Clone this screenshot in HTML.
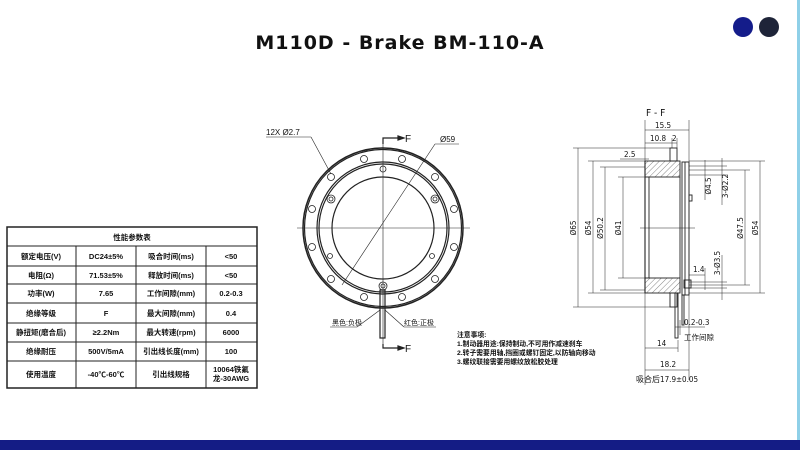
<!DOCTYPE html>
<html><head><meta charset="utf-8"><style>
html,body{margin:0;padding:0;background:#fff;}
body{width:800px;height:450px;position:relative;overflow:hidden;font-family:"Liberation Sans","Noto Sans CJK SC",sans-serif;}
.title{position:absolute;left:0;width:800px;top:32px;text-align:center;font-weight:bold;font-size:19px;letter-spacing:1px;color:#111;font-family:"DejaVu Sans","Liberation Sans",sans-serif;}
.bar{position:absolute;left:0;top:440px;width:800px;height:10px;background:#141c85;}
.edge{position:absolute;left:797px;top:0;width:3px;height:440px;background:#8fd0e8;}
svg{position:absolute;left:0;top:0;}
</style></head><body>
<div class="title">M110D - Brake BM-110-A</div>
<div class="edge"></div>
<div class="bar"></div>
<svg width="800" height="450" viewBox="0 0 800 450" font-family="Liberation Sans, Noto Sans CJK SC, sans-serif">
<circle cx="743" cy="27" r="10" fill="#141c8a"/>
<circle cx="769" cy="27" r="10" fill="#1e2438"/>
<!-- table -->
<g stroke="#222" fill="none" stroke-width="1">
<rect x="7" y="227" width="250" height="161" stroke-width="1.5"/>
<line x1="7" y1="246" x2="257" y2="246"/>
<line x1="7" y1="266" x2="257" y2="266"/>
<line x1="7" y1="284" x2="257" y2="284"/>
<line x1="7" y1="303" x2="257" y2="303"/>
<line x1="7" y1="323" x2="257" y2="323"/>
<line x1="7" y1="342" x2="257" y2="342"/>
<line x1="7" y1="361" x2="257" y2="361"/>
<line x1="76" y1="246" x2="76" y2="388"/>
<line x1="136" y1="246" x2="136" y2="388"/>
<line x1="206" y1="246" x2="206" y2="388"/>
</g>
<g font-size="7.5" font-weight="bold" text-anchor="middle" fill="#111">
<text x="132" y="240">性能参数表</text>
<text x="41" y="259">额定电压(V)</text><text x="106" y="259">DC24±5%</text><text x="171" y="259">吸合时间(ms)</text><text x="231" y="259">&lt;50</text>
<text x="41" y="278">电阻(Ω)</text><text x="106" y="278">71.53±5%</text><text x="171" y="278">释放时间(ms)</text><text x="231" y="278">&lt;50</text>
<text x="41" y="296">功率(W)</text><text x="106" y="296">7.65</text><text x="171" y="296">工作间隙(mm)</text><text x="231" y="296">0.2-0.3</text>
<text x="41" y="316">绝缘等级</text><text x="106" y="316">F</text><text x="171" y="316">最大间隙(mm)</text><text x="231" y="316">0.4</text>
<text x="41" y="335">静扭矩(磨合后)</text><text x="106" y="335">≥2.2Nm</text><text x="171" y="335">最大转速(rpm)</text><text x="231" y="335">6000</text>
<text x="41" y="354">绝缘耐压</text><text x="106" y="354">500V/5mA</text><text x="171" y="354">引出线长度(mm)</text><text x="231" y="354">100</text>
<text x="41" y="377">使用温度</text><text x="106" y="377">-40℃-60℃</text><text x="171" y="377">引出线规格</text><text x="231" y="372">10064铁氟</text><text x="231" y="381">龙-30AWG</text>
</g>
<!-- front view -->
<g stroke="#222" fill="none" stroke-width="1.2">
<circle cx="383" cy="228" r="80" stroke-width="1.5"/>
<circle cx="383" cy="228" r="78.5"/>
<circle cx="383" cy="228" r="66"/>
<circle cx="383" cy="228" r="64"/>
<circle cx="383" cy="228" r="51"/>
<g stroke-width="0.8">
<circle cx="331" cy="177" r="3.5"/><circle cx="312" cy="209" r="3.5"/><circle cx="312" cy="247" r="3.5"/><circle cx="331" cy="279" r="3.5"/>
<circle cx="364" cy="297" r="3.5"/><circle cx="402" cy="297" r="3.5"/><circle cx="435" cy="279" r="3.5"/><circle cx="454" cy="247" r="3.5"/>
<circle cx="454" cy="209" r="3.5"/><circle cx="435" cy="177" r="3.5"/><circle cx="402" cy="159" r="3.5"/><circle cx="364" cy="159" r="3.5"/>
<circle cx="383" cy="169" r="3"/><circle cx="331" cy="199" r="4"/><circle cx="331" cy="199" r="2"/><circle cx="435" cy="199" r="4"/><circle cx="435" cy="199" r="2"/>
<circle cx="330" cy="256" r="2.5"/><circle cx="432" cy="256" r="2.5"/>
<circle cx="383" cy="286" r="4"/><circle cx="383" cy="286" r="2"/>
</g>
<line x1="297" y1="228" x2="470" y2="228" stroke-width="0.6"/>
<line x1="383" y1="140" x2="383" y2="345" stroke-width="0.6"/>
<polyline points="383,144 383,138 398,138"/><polygon points="398,136 404,138 398,140" fill="#222"/>
<polyline points="383,344 383,348 398,348"/><polygon points="398,346 404,348 398,350" fill="#222"/>
<rect x="380" y="290" width="5" height="48"/>
<line x1="311" y1="137" x2="331" y2="174" stroke-width="0.6"/><line x1="266" y1="137" x2="311" y2="137" stroke-width="0.6"/>
<line x1="342" y1="285" x2="435" y2="144" stroke-width="0.6"/><line x1="435" y1="144" x2="459" y2="144" stroke-width="0.6"/>
<line x1="330" y1="327" x2="357" y2="327" stroke-width="0.6"/><line x1="357" y1="327" x2="380" y2="310" stroke-width="0.6"/>
<line x1="385" y1="310" x2="404" y2="327" stroke-width="0.6"/><line x1="404" y1="327" x2="436" y2="327" stroke-width="0.6"/>
</g>
<g font-size="8" fill="#111">
<text x="266" y="135">12X  Ø2.7</text>
<text x="440" y="142">Ø59</text>
<text x="405" y="142" font-size="10">F</text>
<text x="405" y="352" font-size="10">F</text>
<text x="332" y="325" font-size="7">黑色:负极</text>
<text x="404" y="325" font-size="7">红色:正极</text>
</g>
<g font-size="6.8" fill="#111" font-weight="bold">
<text x="457" y="337">注意事项:</text>
<text x="457" y="346">1.制动器用途:保持制动,不可用作减速刹车</text>
<text x="457" y="355">2.转子需要用轴,挡圈或螺钉固定,以防轴向移动</text>
<text x="457" y="364">3.螺纹联接需要用螺纹放松胶处理</text>
</g>
<!-- section view -->
<defs><pattern id="h" width="4" height="4" patternUnits="userSpaceOnUse" patternTransform="rotate(45)"><line x1="0" y1="0" x2="0" y2="4" stroke="#333" stroke-width="0.6"/></pattern></defs>
<g stroke="#222" fill="none" stroke-width="0.9">
<rect x="645" y="161" width="35" height="16" fill="url(#h)"/>
<rect x="645" y="278" width="35" height="15" fill="url(#h)"/>
<rect x="670" y="148" width="7" height="13"/>
<rect x="670" y="293" width="7" height="14"/>
<line x1="645" y1="161" x2="645" y2="293" stroke-width="1.1"/>
<line x1="649" y1="177" x2="649" y2="278"/>
<line x1="680" y1="177" x2="680" y2="278"/>
<rect x="682" y="162" width="7" height="133"/>
<line x1="685" y1="162" x2="685" y2="295"/>
<rect x="689" y="195" width="3" height="6"/>
<rect x="684" y="280" width="7" height="8"/>
<rect x="675" y="293" width="3" height="45"/>
<rect x="682" y="295" width="2" height="30"/>
<line x1="640" y1="228" x2="695" y2="228" stroke-width="0.5"/>
<g stroke-width="0.5">
<line x1="578" y1="148" x2="578" y2="307"/><line x1="573" y1="148" x2="670" y2="148"/><line x1="573" y1="307" x2="670" y2="307"/>
<line x1="593" y1="161" x2="593" y2="293"/><line x1="588" y1="161" x2="645" y2="161"/><line x1="588" y1="293" x2="645" y2="293"/>
<line x1="605" y1="167" x2="605" y2="290"/><line x1="600" y1="167" x2="645" y2="167"/><line x1="600" y1="290" x2="645" y2="290"/>
<line x1="623" y1="177" x2="623" y2="278"/><line x1="618" y1="177" x2="649" y2="177"/><line x1="618" y1="278" x2="649" y2="278"/>
<line x1="689" y1="161" x2="765" y2="161"/><line x1="689" y1="293" x2="765" y2="293"/>
<line x1="689" y1="170" x2="750" y2="170"/><line x1="689" y1="285" x2="750" y2="285"/>
<line x1="689" y1="166" x2="727" y2="166"/><line x1="689" y1="175" x2="727" y2="175"/>
<line x1="760" y1="161" x2="760" y2="293"/><line x1="745" y1="170" x2="745" y2="285"/>
<line x1="705" y1="160" x2="705" y2="200"/><line x1="722" y1="158" x2="722" y2="205"/>
<line x1="705" y1="268" x2="705" y2="290"/><line x1="722" y1="255" x2="722" y2="300"/>
<line x1="689" y1="282" x2="727" y2="282"/><line x1="689" y1="288" x2="727" y2="288"/>
<line x1="645" y1="120" x2="645" y2="385"/><line x1="689" y1="120" x2="689" y2="380"/>
<line x1="645" y1="130" x2="689" y2="130"/><line x1="645" y1="143" x2="677" y2="143"/><line x1="672" y1="138" x2="672" y2="148"/><line x1="677" y1="138" x2="677" y2="148"/>
<line x1="620" y1="159" x2="649" y2="159"/>
<line x1="675" y1="327" x2="705" y2="327"/><line x1="680" y1="320" x2="680" y2="335"/>
<line x1="645" y1="348" x2="678" y2="348"/><line x1="678" y1="340" x2="678" y2="352"/>
<line x1="645" y1="370" x2="689" y2="370"/>
<line x1="689" y1="275" x2="705" y2="275"/>
</g>
</g>
<g font-size="8" fill="#111" font-family="DejaVu Sans Condensed, Liberation Sans, Noto Sans CJK SC, sans-serif">
<text x="646" y="116" font-size="10">F - F</text>
<text x="655" y="128">15.5</text>
<text x="650" y="141">10.8</text><text x="672" y="141">2</text>
<text x="624" y="157">2.5</text>
<text x="693" y="272">1.4</text>
<text x="684" y="325">0.2-0.3</text>
<text x="684" y="340" font-size="7.5">工作间隙</text>
<text x="657" y="346">14</text>
<text x="660" y="367">18.2</text>
<text x="636" y="382" font-size="8">吸合后17.9±0.05</text>
<g text-anchor="middle">
<text transform="translate(576,228) rotate(-90)">Ø65</text>
<text transform="translate(591,228) rotate(-90)">Ø54</text>
<text transform="translate(603,228) rotate(-90)">Ø50.2</text>
<text transform="translate(621,228) rotate(-90)">Ø41</text>
<text transform="translate(711,186) rotate(-90)">Ø4.5</text>
<text transform="translate(728,186) rotate(-90)">3-Ø2.2</text>
<text transform="translate(743,228) rotate(-90)">Ø47.5</text>
<text transform="translate(758,228) rotate(-90)">Ø54</text>
<text transform="translate(720,263) rotate(-90)">3-Ø3.5</text>
</g>
</g>
</svg>
</body></html>
